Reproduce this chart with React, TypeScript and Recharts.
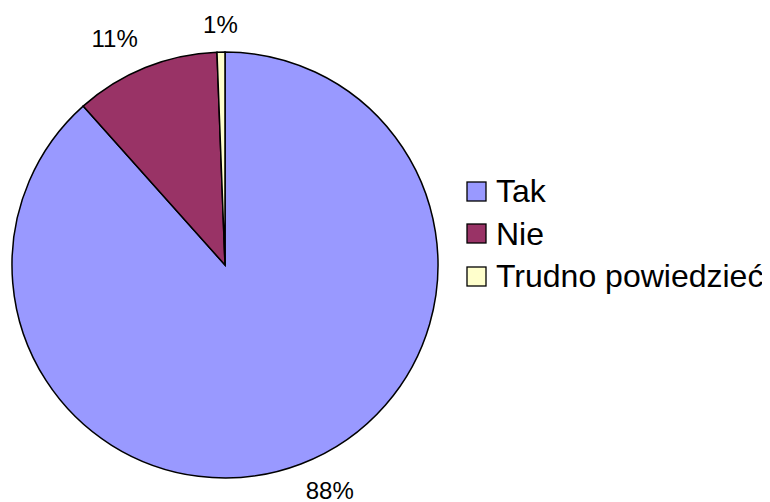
import React from 'react';
import { PieChart, Pie, Cell, Legend } from 'recharts';

const categories = ['Tak', 'Nie', 'Trudno powiedzieć'];
const values = [88.4, 11.0, 0.6];
const valueLabels = ['88%', '11%', '1%'];
const colors = ['#9999FF', '#993366', '#FFFFCC'];

const data = categories.map((name, i) => ({ name, value: values[i], label: valueLabels[i] }));

const FONT = '"Liberation Sans", Arial, sans-serif';
const RAD = Math.PI / 180;
const labelAngleShift = [4, 4, 0];
const labelRadiusExtra = [36, 39, 28];

const renderLabel = (props: any) => {
  const { cx, cy, midAngle, outerRadius, index } = props;
  const a = midAngle + labelAngleShift[index];
  const r = outerRadius + labelRadiusExtra[index];
  const x = cx + r * Math.cos(-a * RAD);
  const y = cy + r * Math.sin(-a * RAD);
  return (
    <text x={x} y={y} textAnchor="middle" dominantBaseline="central" fill="#000" fontSize={24} fontFamily={FONT}>
      {data[index].label}
    </text>
  );
};

const renderLegend = () => (
  <div style={{ fontFamily: FONT, fontSize: 32, color: '#000', lineHeight: '42px' }}>
    {data.map((d, i) => (
      <div key={d.name} style={{ display: 'flex', alignItems: 'center', height: 42.5 }}>
        <svg width={21} height={21} style={{ marginRight: 9, flex: 'none' }}>
          <rect x={1} y={1} width={19} height={19} fill={colors[i]} stroke="#000" strokeWidth={1.3} />
        </svg>
        <span style={{ whiteSpace: 'nowrap' }}>{d.name}</span>
      </div>
    ))}
  </div>
);

export default function App() {
  return (
    <PieChart width={754} height={494} style={{ overflow: 'visible' }}>
      <Pie
        data={data}
        dataKey="value"
        nameKey="name"
        cx={212}
        cy={252}
        outerRadius={213}
        startAngle={90}
        endAngle={-270}
        stroke="#000"
        strokeWidth={1.5}
        label={renderLabel}
        labelLine={false}
        isAnimationActive={false}
      >
        {data.map((d, i) => (
          <Cell key={d.name} fill={colors[i]} />
        ))}
      </Pie>
      <Legend
        content={renderLegend}
        layout="vertical"
        wrapperStyle={{ position: 'absolute', left: 458, top: 162, width: 310 }}
      />
    </PieChart>
  );
}
